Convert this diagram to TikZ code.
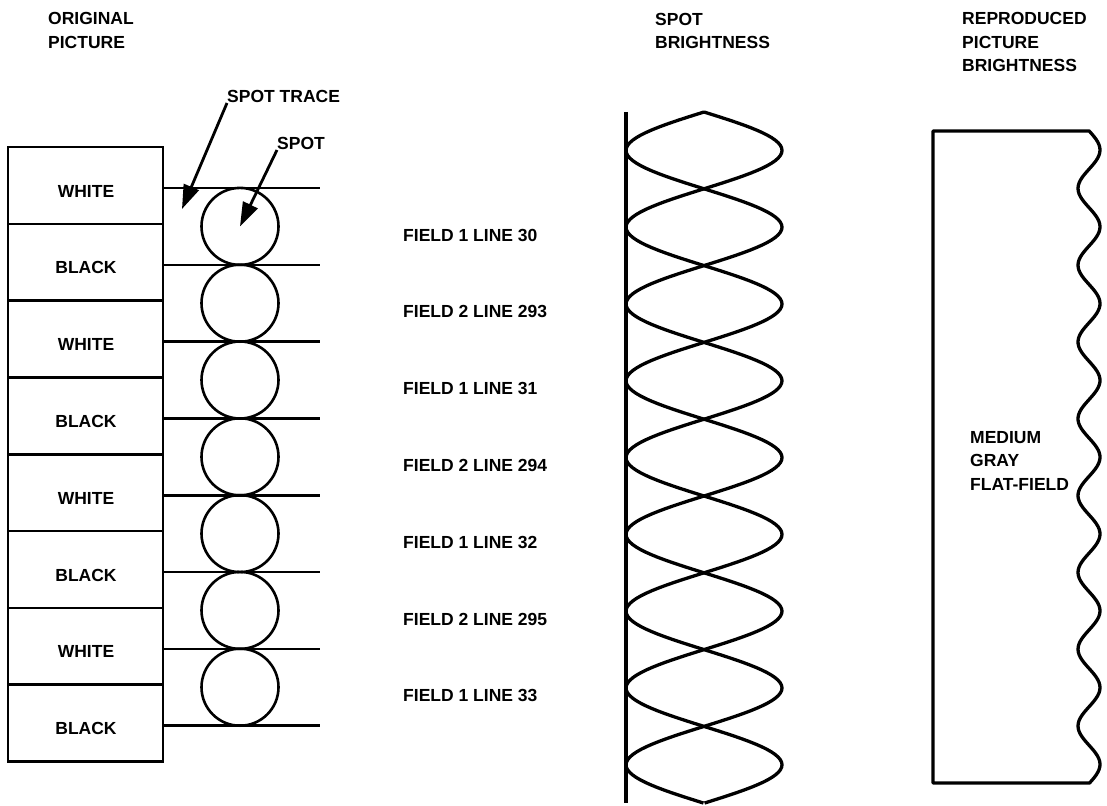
\documentclass[tikz,border=0pt]{standalone}
\usepackage{fontspec}
\setmainfont{Liberation Sans}
\usetikzlibrary{arrows.meta, calc}

\tikzset{
  lbl/.style={font=\fontsize{17.5}{23.5}\selectfont\bfseries, inner sep=0pt, align=left},
  edge/.style={line width=2.6pt},
  curve/.style={line width=3.3pt, line join=round},
  spot/.style={circle, draw, line width=2.6pt, minimum size=77pt, inner sep=0pt},
  pointer/.style={line width=2.8pt, -{Triangle[length=24pt, width=16pt]}},
}

\begin{document}
\begin{tikzpicture}[x=1pt, y=-1pt]
\useasboundingbox (0,0) rectangle (1107,805);

% Headings (anchored at the baseline of the last line)
\node[lbl, anchor=base west] (hdorig) at (48,48.5) {ORIGINAL\\PICTURE};
\node[lbl, anchor=base west] (hdspot) at (655,49) {SPOT\\BRIGHTNESS};
\node[lbl, anchor=base west] (hdrepro) at (962,72) {REPRODUCED\\PICTURE\\BRIGHTNESS};

% Original picture cells
\foreach \k/\txt in {0/WHITE,1/BLACK,2/WHITE,3/BLACK,4/WHITE,5/BLACK,6/WHITE,7/BLACK} {
    \pgfmathsetmacro{\ytop}{147+76.8*\k}
    \draw[edge] (8,\ytop) rectangle (163,\ytop+76.8);
    \node[lbl] (cell\k) at (86,\ytop+44) {\txt};
}

% Spot trace lines and spots
\foreach \k in {0,...,7} {
    \draw[edge] (163,188+76.8*\k) -- (320,188+76.8*\k);
}
\foreach \k in {0,...,6} {
    \node[spot] (spot\k) at (240,226.4+76.8*\k) {};
}

% Pointers
\node[lbl, anchor=base west] (tracelbl) at (227,103) {SPOT TRACE};
\coordinate (tracetip) at (182,209);
\draw[pointer] (tracelbl.base west) -- (tracetip);
\node[lbl, anchor=base west] (spotlbl) at (277,150) {SPOT};
\draw[pointer] (spotlbl.base west) -- (spot0.center);

% Field / line labels
\foreach \k/\txt in {0/{FIELD 1 LINE 30},1/{FIELD 2 LINE 293},2/{FIELD 1 LINE 31},
                     3/{FIELD 2 LINE 294},4/{FIELD 1 LINE 32},5/{FIELD 2 LINE 295},
                     6/{FIELD 1 LINE 33}} {
    \node[lbl, anchor=west] (field\k) at (403,235+76.8*\k) {\txt};
}

% Spot brightness
\coordinate (axtop) at (626,112);
\coordinate (axbot) at (626,803);
\draw[curve] (axtop) -- (axbot);
\draw[curve] plot[domain=0:9, samples=271] ({704+78*sin(180*\x)}, {112+76.8*\x});
\draw[curve] plot[domain=0:9, samples=271] ({704-78*sin(180*\x)}, {112+76.8*\x});

% Reproduced picture brightness
\draw[curve] (1089,131) -- (933,131) -- (933,783) -- (1090,783)
    -- plot[domain=783:131, samples=240] ({1089+11*cos(4.6875*(\x-150))}, {\x}) -- cycle;
\node[lbl, anchor=base west] (flatlbl) at (970,490) {MEDIUM\\GRAY\\FLAT-FIELD};
\end{tikzpicture}
\end{document}
